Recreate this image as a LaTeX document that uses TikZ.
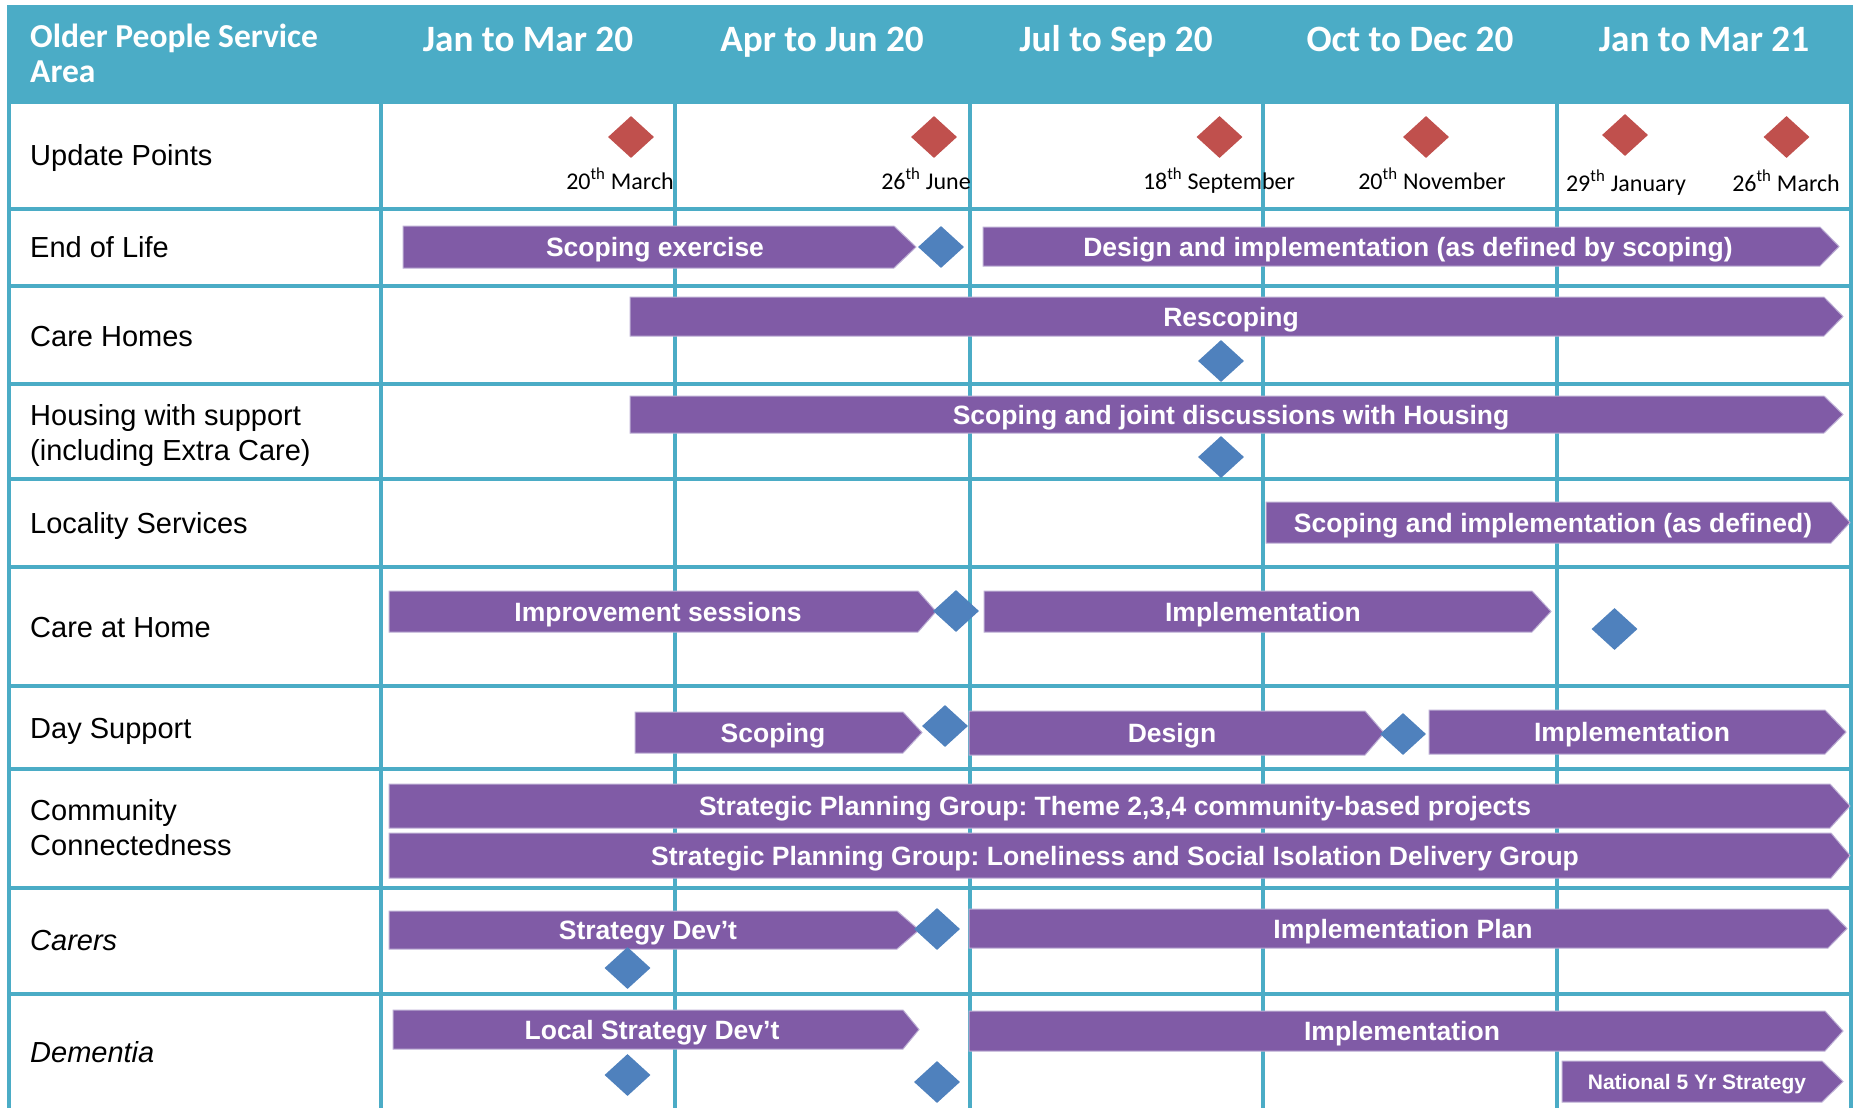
\documentclass[tikz,border=0pt]{standalone}
\usepackage{fontspec}
\setmainfont{Liberation Sans}
\newfontfamily\calibrifont{Carlito}
\usetikzlibrary{shapes.geometric}
\frenchspacing

\definecolor{gridteal}{RGB}{75,172,198}
\definecolor{barpurple}{RGB}{128,91,166}
\definecolor{barrim}{RGB}{188,174,212}
\definecolor{msblue}{RGB}{79,129,189}
\definecolor{msred}{RGB}{192,80,77}

\tikzset{
  gridline/.style={draw=gridteal, line width=3.5pt},
  headfill/.style={fill=gridteal},
  titletext/.style={text=white, anchor=base west, inner sep=0pt,
    font=\calibrifont\bfseries\fontsize{33.5}{36}\selectfont},
  coltext/.style={text=white, anchor=base, inner sep=0pt,
    font=\calibrifont\bfseries\fontsize{37.2}{42}\selectfont},
  rowlabel/.style={anchor=base west, inner sep=0pt,
    font=\fontsize{29}{35}\selectfont},
  datetext/.style={anchor=base, inner sep=0pt,
    font=\calibrifont\fontsize{24}{28}\selectfont},
  barshape/.style={fill=barpurple, draw=barrim, line width=1pt},
  bartext/.style={text=white, anchor=center, inner sep=0pt,
    text height=19pt, text depth=0pt,
    font=\bfseries\fontsize{26.5}{30}\selectfont},
  smallbartext/.style={text height=15pt,
    font=\bfseries\fontsize{21}{24}\selectfont},
  milestone/.style={diamond, inner sep=0pt, minimum width=46pt,
    minimum height=42pt, fill=msblue},
  updatepoint/.style={milestone, fill=msred},
}

% #1 extra text style, #2 name, #3 left, #4 body end, #5 tip,
% #6 top, #7 bottom, #8 text centre, #9 text
\newcommand\ganttbar[9][]{%
  \path[barshape] (#3,#6) -- (#4,#6) -- (#5,{(#6+#7)/2}) -- (#4,#7)
    -- (#3,#7) -- cycle;
  \node[bartext,#1] (#2) at (#8,{(#6+#7)/2}) {#9};
}

\begin{document}
\begin{tikzpicture}[x=1pt,y=-1pt]
  \useasboundingbox (0,0) rectangle (1854,1108);

  % header band
  \path[headfill] (7,5) rectangle (1853,104);
  \node[titletext] (title1) at (30,48) {Older People Service};
  \node[titletext] (title2) at (30,82) {Area};
  \node[coltext] (q1) at (528,52) {Jan to Mar 20};
  \node[coltext] (q2) at (822,52) {Apr to Jun 20};
  \node[coltext] (q3) at (1116,52) {Jul to Sep 20};
  \node[coltext] (q4) at (1410,52) {Oct to Dec 20};
  \node[coltext] (q5) at (1704,52) {Jan to Mar 21};

  % table grid
  \foreach \yy in {209,286,384,479,567,686,769,888,994}
    \draw[gridline] (9,\yy) -- (1851,\yy);
  \foreach \xx in {9,381,675,970,1263,1557,1851}
    \draw[gridline] (\xx,103) -- (\xx,1108);

  % service areas
  \node[rowlabel] (r1) at (30,165) {Update Points};
  \node[rowlabel] (r2) at (30,257) {End of Life};
  \node[rowlabel] (r3) at (30,346) {Care Homes};
  \node[rowlabel] (r4a) at (30,425) {Housing with support};
  \node[rowlabel] (r4b) at (30,460) {(including Extra Care)};
  \node[rowlabel] (r5) at (30,533) {Locality Services};
  \node[rowlabel] (r6) at (30,637) {Care at Home};
  \node[rowlabel] (r7) at (30,738) {Day Support};
  \node[rowlabel] (r8a) at (30,820) {Community};
  \node[rowlabel] (r8b) at (30,855) {Connectedness};
  \node[rowlabel,font=\itshape\fontsize{29}{35}\selectfont] (r9) at (30,950) {Carers};
  \node[rowlabel,font=\itshape\fontsize{29}{35}\selectfont] (r10) at (30,1062) {Dementia};

  % update points
  \node[updatepoint] (u1) at (631,137) {};
  \node[updatepoint] (u2) at (934,137) {};
  \node[updatepoint] (u3) at (1219.5,137) {};
  \node[updatepoint] (u4) at (1426,137) {};
  \node[updatepoint] (u5) at (1625,135) {};
  \node[updatepoint] (u6) at (1786.5,137) {};
  \node[datetext] (d1) at (620,189) {20\textsuperscript{th} March};
  \node[datetext] (d2) at (926,189) {26\textsuperscript{th} June};
  \node[datetext] (d3) at (1219,189) {18\textsuperscript{th} September};
  \node[datetext] (d4) at (1432,189) {20\textsuperscript{th} November};
  \node[datetext] (d5) at (1626,191) {29\textsuperscript{th} January};
  \node[datetext] (d6) at (1786,191) {26\textsuperscript{th} March};

  % End of Life
  \ganttbar{eolA}{403}{894}{916}{226}{268}{655}{Scoping exercise}
  \node[milestone] (eolM) at (941,247) {};
  \ganttbar{eolB}{983}{1820}{1839}{227}{266}{1408}{Design and implementation (as defined by scoping)}

  % Care Homes
  \ganttbar{chA}{630}{1824}{1843}{297}{336}{1231}{Rescoping}
  \node[milestone] (chM) at (1221,361) {};

  % Housing with support
  \ganttbar{hsA}{630}{1824}{1843}{396}{433}{1231}{Scoping and joint discussions with Housing}
  \node[milestone] (hsM) at (1221,457) {};

  % Locality Services
  \ganttbar{locA}{1266}{1831}{1850}{502}{543}{1553}{Scoping and implementation (as defined)}

  % Care at Home
  \ganttbar{cahA}{389}{918}{936}{591}{632}{658}{Improvement sessions}
  \node[milestone] (cahM1) at (956,611) {};
  \ganttbar{cahB}{984}{1532}{1551}{591}{632}{1263}{Implementation}
  \node[milestone] (cahM2) at (1614.5,629) {};

  % Day Support
  \ganttbar{dsA}{635}{903}{922}{712}{753}{773}{Scoping}
  \node[milestone] (dsM1) at (945,726) {};
  \ganttbar{dsB}{969}{1365}{1384}{711}{755}{1172}{Design}
  \node[milestone] (dsM2) at (1403,734) {};
  \ganttbar{dsC}{1429}{1825}{1846}{710}{754}{1632}{Implementation}

  % Community Connectedness
  \ganttbar{ccA}{389}{1830}{1850}{784}{828}{1115}{Strategic Planning Group: Theme 2,3,4 community-based projects}
  \ganttbar{ccB}{389}{1831}{1850}{833}{878}{1115}{Strategic Planning Group: Loneliness and Social Isolation Delivery Group}

  % Carers
  \ganttbar{carA}{389}{897}{919}{911}{949}{648}{Strategy Dev’t}
  \node[milestone] (carM1) at (627.5,968) {};
  \node[milestone] (carM2) at (937,929) {};
  \ganttbar{carB}{969}{1828}{1847}{909}{948}{1403}{Implementation Plan}

  % Dementia
  \ganttbar{demA}{393}{903}{919}{1010}{1049}{652}{Local Strategy Dev’t}
  \node[milestone] (demM1) at (627.5,1075) {};
  \node[milestone] (demM2) at (937,1082) {};
  \ganttbar{demB}{969}{1825}{1843}{1011}{1051}{1402}{Implementation}
  \ganttbar[smallbartext]{demC}{1562}{1822}{1843}{1061}{1102}{1697}{National 5 Yr Strategy}
\end{tikzpicture}
\end{document}
